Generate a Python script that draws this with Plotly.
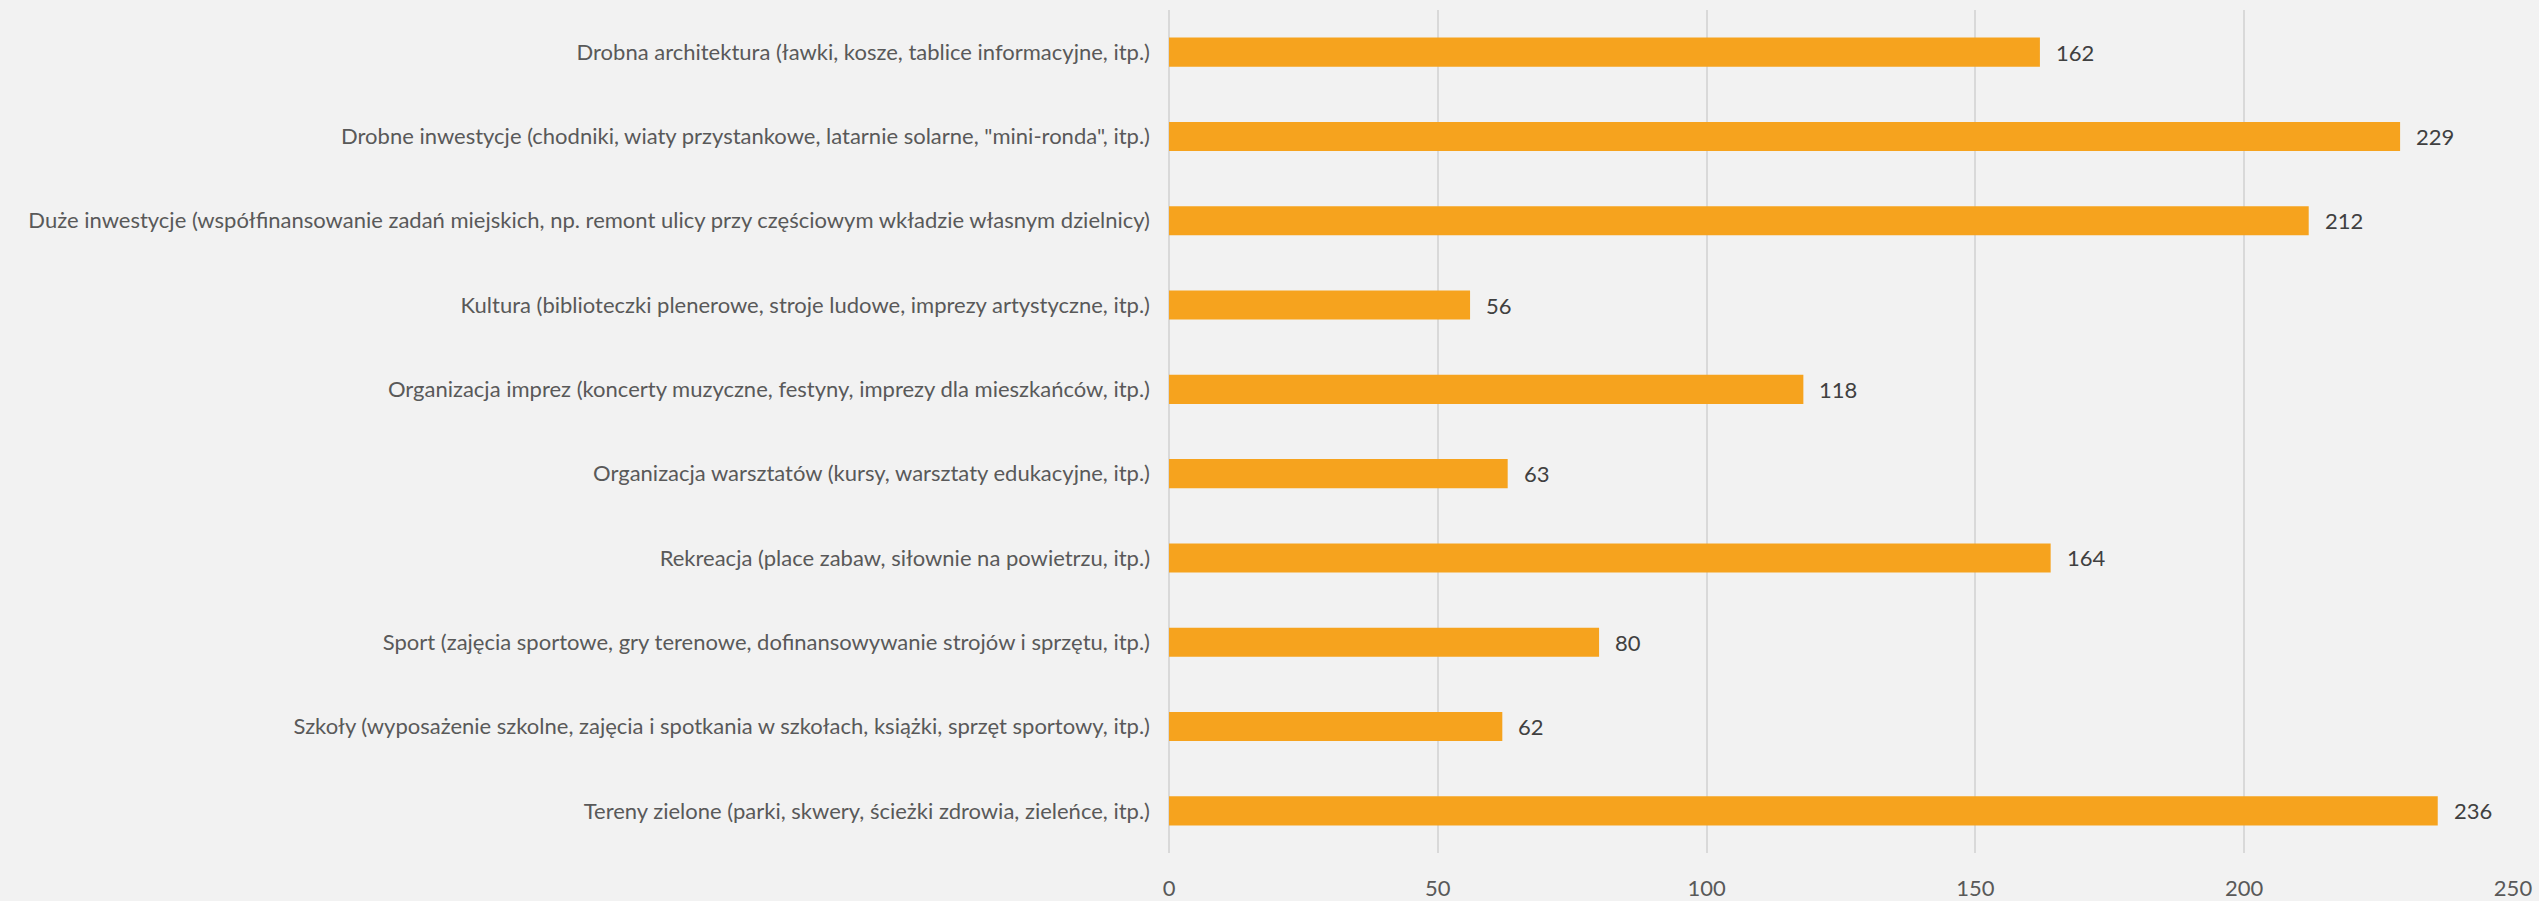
import plotly.graph_objects as go

categories = [
    "Drobna architektura (ławki, kosze, tablice informacyjne, itp.)",
    "Drobne inwestycje (chodniki, wiaty przystankowe, latarnie solarne, \"mini-ronda\", itp.)",
    "Duże inwestycje (współfinansowanie zadań miejskich, np. remont ulicy przy częściowym wkładzie własnym dzielnicy)",
    "Kultura (biblioteczki plenerowe, stroje ludowe, imprezy artystyczne, itp.)",
    "Organizacja imprez (koncerty muzyczne, festyny, imprezy dla mieszkańców, itp.)",
    "Organizacja warsztatów (kursy, warsztaty edukacyjne, itp.)",
    "Rekreacja (place zabaw, siłownie na powietrzu, itp.)",
    "Sport (zajęcia sportowe, gry terenowe, dofinansowywanie strojów i sprzętu, itp.)",
    "Szkoły (wyposażenie szkolne, zajęcia i spotkania w szkołach, książki, sprzęt sportowy, itp.)",
    "Tereny zielone (parki, skwery, ścieżki zdrowia, zieleńce, itp.)",
]
values = [162, 229, 212, 56, 118, 63, 164, 80, 62, 236]
tick_vals = [0, 50, 100, 150, 200, 250]

FONT = "Lato"
BAR = "#F6A31E"
BG = "#F2F2F2"
GRID = "#D9D9D9"

fig = go.Figure()
fig.add_trace(go.Bar(
    x=values, y=categories, orientation="h",
    marker=dict(color=BAR, line=dict(width=0)),
    width=0.345, hoverinfo="x+y",
))

for c, v in zip(categories, values):
    fig.add_annotation(x=v, y=c, text=str(v), showarrow=False,
                       xanchor="left", yanchor="middle", xshift=14,
                       font=dict(family=FONT, size=22, color="#404040"))

fig.update_layout(
    width=2539, height=901,
    paper_bgcolor=BG, plot_bgcolor=BG,
    margin=dict(l=1169, r=26, t=10, b=48),
    showlegend=False,
    font=dict(family=FONT, size=22, color="#595959"),
    xaxis=dict(range=[0, 250], tickvals=tick_vals, ticktext=[str(t) for t in tick_vals],
               showgrid=True, gridcolor=GRID, gridwidth=1.5,
               zeroline=True, zerolinecolor=GRID, zerolinewidth=1.5,
               showline=False, ticks="", ticklabelstandoff=20, automargin=False,
               tickfont=dict(family=FONT, size=22, color="#595959")),
    yaxis=dict(autorange="reversed", showgrid=False, zeroline=False,
               showline=False, ticks="", ticklabelstandoff=18, automargin=False,
               tickfont=dict(family=FONT, size=22, color="#595959")),
)

fig.write_html(
    "out.html",
    config={"displayModeBar": False},
    post_script="document.body.style.margin='0px';document.body.style.background='#F2F2F2';",
)
